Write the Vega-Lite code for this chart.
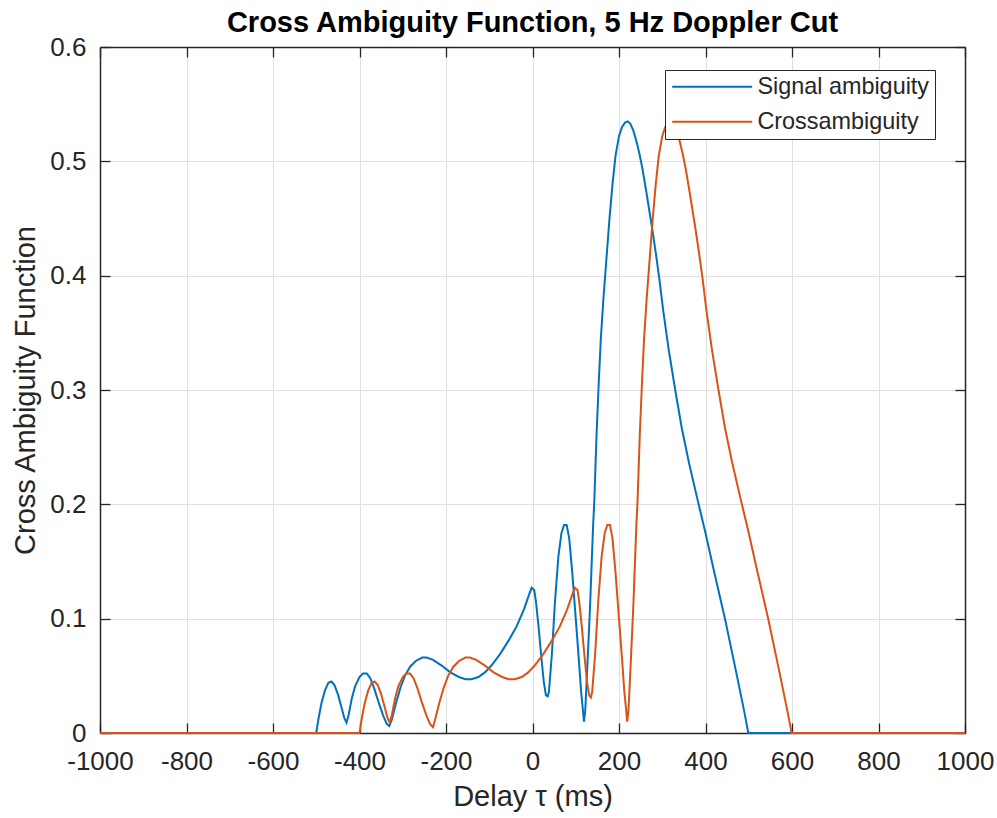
{
  "$schema": "https://vega.github.io/schema/vega-lite/v6.json",
  "autosize": "none",
  "width": 865,
  "height": 686,
  "padding": {"left": 100, "top": 47, "right": 32, "bottom": 85},
  "background": "white",
  "title": {"text": "Cross Ambiguity Function, 5 Hz Doppler Cut", "font": "Liberation Sans", "fontSize": 29, "fontWeight": "bold", "color": "#000000", "anchor": "middle", "offset": -4},
  "config": {"view": {"stroke": null}},
  "data": {"values": [
    {"t": -1000, "v": 0, "s": "Signal ambiguity"},
    {"t": -500, "v": 0, "s": "Signal ambiguity"},
    {"t": -495, "v": 0.012, "s": "Signal ambiguity"},
    {"t": -488, "v": 0.026, "s": "Signal ambiguity"},
    {"t": -480, "v": 0.037, "s": "Signal ambiguity"},
    {"t": -472, "v": 0.044, "s": "Signal ambiguity"},
    {"t": -465, "v": 0.045, "s": "Signal ambiguity"},
    {"t": -458, "v": 0.042, "s": "Signal ambiguity"},
    {"t": -450, "v": 0.034, "s": "Signal ambiguity"},
    {"t": -442, "v": 0.023, "s": "Signal ambiguity"},
    {"t": -435, "v": 0.013, "s": "Signal ambiguity"},
    {"t": -430, "v": 0.009, "s": "Signal ambiguity"},
    {"t": -425, "v": 0.016, "s": "Signal ambiguity"},
    {"t": -418, "v": 0.03, "s": "Signal ambiguity"},
    {"t": -410, "v": 0.041, "s": "Signal ambiguity"},
    {"t": -400, "v": 0.049, "s": "Signal ambiguity"},
    {"t": -392, "v": 0.052, "s": "Signal ambiguity"},
    {"t": -383, "v": 0.052, "s": "Signal ambiguity"},
    {"t": -375, "v": 0.048, "s": "Signal ambiguity"},
    {"t": -366, "v": 0.039, "s": "Signal ambiguity"},
    {"t": -356, "v": 0.027, "s": "Signal ambiguity"},
    {"t": -345, "v": 0.015, "s": "Signal ambiguity"},
    {"t": -337, "v": 0.008, "s": "Signal ambiguity"},
    {"t": -331, "v": 0.006, "s": "Signal ambiguity"},
    {"t": -325, "v": 0.012, "s": "Signal ambiguity"},
    {"t": -315, "v": 0.027, "s": "Signal ambiguity"},
    {"t": -305, "v": 0.04, "s": "Signal ambiguity"},
    {"t": -295, "v": 0.05, "s": "Signal ambiguity"},
    {"t": -283, "v": 0.058, "s": "Signal ambiguity"},
    {"t": -270, "v": 0.063, "s": "Signal ambiguity"},
    {"t": -255, "v": 0.066, "s": "Signal ambiguity"},
    {"t": -245, "v": 0.066, "s": "Signal ambiguity"},
    {"t": -230, "v": 0.064, "s": "Signal ambiguity"},
    {"t": -210, "v": 0.059, "s": "Signal ambiguity"},
    {"t": -190, "v": 0.053, "s": "Signal ambiguity"},
    {"t": -170, "v": 0.049, "s": "Signal ambiguity"},
    {"t": -155, "v": 0.047, "s": "Signal ambiguity"},
    {"t": -141, "v": 0.047, "s": "Signal ambiguity"},
    {"t": -125, "v": 0.049, "s": "Signal ambiguity"},
    {"t": -110, "v": 0.053, "s": "Signal ambiguity"},
    {"t": -95, "v": 0.059, "s": "Signal ambiguity"},
    {"t": -75, "v": 0.069, "s": "Signal ambiguity"},
    {"t": -55, "v": 0.081, "s": "Signal ambiguity"},
    {"t": -37, "v": 0.093, "s": "Signal ambiguity"},
    {"t": -20, "v": 0.108, "s": "Signal ambiguity"},
    {"t": -8, "v": 0.121, "s": "Signal ambiguity"},
    {"t": -2, "v": 0.127, "s": "Signal ambiguity"},
    {"t": 4, "v": 0.125, "s": "Signal ambiguity"},
    {"t": 8, "v": 0.115, "s": "Signal ambiguity"},
    {"t": 14, "v": 0.093, "s": "Signal ambiguity"},
    {"t": 20, "v": 0.068, "s": "Signal ambiguity"},
    {"t": 26, "v": 0.045, "s": "Signal ambiguity"},
    {"t": 31, "v": 0.033, "s": "Signal ambiguity"},
    {"t": 35, "v": 0.032, "s": "Signal ambiguity"},
    {"t": 38, "v": 0.036, "s": "Signal ambiguity"},
    {"t": 45, "v": 0.07, "s": "Signal ambiguity"},
    {"t": 52, "v": 0.115, "s": "Signal ambiguity"},
    {"t": 60, "v": 0.155, "s": "Signal ambiguity"},
    {"t": 67, "v": 0.175, "s": "Signal ambiguity"},
    {"t": 73, "v": 0.182, "s": "Signal ambiguity"},
    {"t": 79, "v": 0.182, "s": "Signal ambiguity"},
    {"t": 85, "v": 0.17, "s": "Signal ambiguity"},
    {"t": 92, "v": 0.14, "s": "Signal ambiguity"},
    {"t": 100, "v": 0.1, "s": "Signal ambiguity"},
    {"t": 107, "v": 0.065, "s": "Signal ambiguity"},
    {"t": 112, "v": 0.038, "s": "Signal ambiguity"},
    {"t": 117, "v": 0.018, "s": "Signal ambiguity"},
    {"t": 119, "v": 0.01, "s": "Signal ambiguity"},
    {"t": 122, "v": 0.02, "s": "Signal ambiguity"},
    {"t": 127, "v": 0.06, "s": "Signal ambiguity"},
    {"t": 133, "v": 0.11, "s": "Signal ambiguity"},
    {"t": 140, "v": 0.18, "s": "Signal ambiguity"},
    {"t": 143, "v": 0.204, "s": "Signal ambiguity"},
    {"t": 148, "v": 0.26, "s": "Signal ambiguity"},
    {"t": 153, "v": 0.305, "s": "Signal ambiguity"},
    {"t": 158, "v": 0.345, "s": "Signal ambiguity"},
    {"t": 164, "v": 0.38, "s": "Signal ambiguity"},
    {"t": 170, "v": 0.41, "s": "Signal ambiguity"},
    {"t": 178, "v": 0.45, "s": "Signal ambiguity"},
    {"t": 185, "v": 0.48, "s": "Signal ambiguity"},
    {"t": 192, "v": 0.505, "s": "Signal ambiguity"},
    {"t": 200, "v": 0.522, "s": "Signal ambiguity"},
    {"t": 207, "v": 0.53, "s": "Signal ambiguity"},
    {"t": 214, "v": 0.534, "s": "Signal ambiguity"},
    {"t": 220, "v": 0.535, "s": "Signal ambiguity"},
    {"t": 226, "v": 0.533, "s": "Signal ambiguity"},
    {"t": 233, "v": 0.527, "s": "Signal ambiguity"},
    {"t": 240, "v": 0.518, "s": "Signal ambiguity"},
    {"t": 247, "v": 0.507, "s": "Signal ambiguity"},
    {"t": 254, "v": 0.494, "s": "Signal ambiguity"},
    {"t": 262, "v": 0.476, "s": "Signal ambiguity"},
    {"t": 276, "v": 0.443, "s": "Signal ambiguity"},
    {"t": 285, "v": 0.42, "s": "Signal ambiguity"},
    {"t": 293, "v": 0.398, "s": "Signal ambiguity"},
    {"t": 302, "v": 0.37, "s": "Signal ambiguity"},
    {"t": 315, "v": 0.335, "s": "Signal ambiguity"},
    {"t": 330, "v": 0.3, "s": "Signal ambiguity"},
    {"t": 345, "v": 0.267, "s": "Signal ambiguity"},
    {"t": 362, "v": 0.236, "s": "Signal ambiguity"},
    {"t": 381, "v": 0.205, "s": "Signal ambiguity"},
    {"t": 400, "v": 0.175, "s": "Signal ambiguity"},
    {"t": 420, "v": 0.141, "s": "Signal ambiguity"},
    {"t": 445, "v": 0.1, "s": "Signal ambiguity"},
    {"t": 470, "v": 0.055, "s": "Signal ambiguity"},
    {"t": 490, "v": 0.018, "s": "Signal ambiguity"},
    {"t": 499, "v": 0, "s": "Signal ambiguity"},
    {"t": 1000, "v": 0, "s": "Signal ambiguity"},

    {"t": -1000, "v": 0, "s": "Crossambiguity"},
    {"t": -400, "v": 0, "s": "Crossambiguity"},
    {"t": -395, "v": 0.012, "s": "Crossambiguity"},
    {"t": -388, "v": 0.026, "s": "Crossambiguity"},
    {"t": -380, "v": 0.037, "s": "Crossambiguity"},
    {"t": -372, "v": 0.044, "s": "Crossambiguity"},
    {"t": -365, "v": 0.045, "s": "Crossambiguity"},
    {"t": -358, "v": 0.042, "s": "Crossambiguity"},
    {"t": -350, "v": 0.034, "s": "Crossambiguity"},
    {"t": -342, "v": 0.023, "s": "Crossambiguity"},
    {"t": -335, "v": 0.013, "s": "Crossambiguity"},
    {"t": -330, "v": 0.009, "s": "Crossambiguity"},
    {"t": -325, "v": 0.016, "s": "Crossambiguity"},
    {"t": -318, "v": 0.03, "s": "Crossambiguity"},
    {"t": -310, "v": 0.041, "s": "Crossambiguity"},
    {"t": -300, "v": 0.049, "s": "Crossambiguity"},
    {"t": -292, "v": 0.052, "s": "Crossambiguity"},
    {"t": -283, "v": 0.052, "s": "Crossambiguity"},
    {"t": -275, "v": 0.048, "s": "Crossambiguity"},
    {"t": -266, "v": 0.039, "s": "Crossambiguity"},
    {"t": -256, "v": 0.027, "s": "Crossambiguity"},
    {"t": -245, "v": 0.015, "s": "Crossambiguity"},
    {"t": -237, "v": 0.008, "s": "Crossambiguity"},
    {"t": -230, "v": 0.005, "s": "Crossambiguity"},
    {"t": -225, "v": 0.012, "s": "Crossambiguity"},
    {"t": -215, "v": 0.027, "s": "Crossambiguity"},
    {"t": -205, "v": 0.04, "s": "Crossambiguity"},
    {"t": -195, "v": 0.05, "s": "Crossambiguity"},
    {"t": -183, "v": 0.058, "s": "Crossambiguity"},
    {"t": -170, "v": 0.063, "s": "Crossambiguity"},
    {"t": -155, "v": 0.066, "s": "Crossambiguity"},
    {"t": -145, "v": 0.066, "s": "Crossambiguity"},
    {"t": -130, "v": 0.064, "s": "Crossambiguity"},
    {"t": -110, "v": 0.059, "s": "Crossambiguity"},
    {"t": -90, "v": 0.053, "s": "Crossambiguity"},
    {"t": -70, "v": 0.049, "s": "Crossambiguity"},
    {"t": -55, "v": 0.047, "s": "Crossambiguity"},
    {"t": -41, "v": 0.047, "s": "Crossambiguity"},
    {"t": -25, "v": 0.049, "s": "Crossambiguity"},
    {"t": -10, "v": 0.053, "s": "Crossambiguity"},
    {"t": 5, "v": 0.059, "s": "Crossambiguity"},
    {"t": 25, "v": 0.069, "s": "Crossambiguity"},
    {"t": 45, "v": 0.081, "s": "Crossambiguity"},
    {"t": 63, "v": 0.093, "s": "Crossambiguity"},
    {"t": 80, "v": 0.108, "s": "Crossambiguity"},
    {"t": 92, "v": 0.121, "s": "Crossambiguity"},
    {"t": 98, "v": 0.127, "s": "Crossambiguity"},
    {"t": 104, "v": 0.125, "s": "Crossambiguity"},
    {"t": 108, "v": 0.115, "s": "Crossambiguity"},
    {"t": 114, "v": 0.093, "s": "Crossambiguity"},
    {"t": 120, "v": 0.068, "s": "Crossambiguity"},
    {"t": 126, "v": 0.045, "s": "Crossambiguity"},
    {"t": 131, "v": 0.033, "s": "Crossambiguity"},
    {"t": 135, "v": 0.031, "s": "Crossambiguity"},
    {"t": 138, "v": 0.036, "s": "Crossambiguity"},
    {"t": 145, "v": 0.07, "s": "Crossambiguity"},
    {"t": 152, "v": 0.115, "s": "Crossambiguity"},
    {"t": 160, "v": 0.155, "s": "Crossambiguity"},
    {"t": 167, "v": 0.175, "s": "Crossambiguity"},
    {"t": 173, "v": 0.182, "s": "Crossambiguity"},
    {"t": 179, "v": 0.182, "s": "Crossambiguity"},
    {"t": 185, "v": 0.17, "s": "Crossambiguity"},
    {"t": 192, "v": 0.14, "s": "Crossambiguity"},
    {"t": 200, "v": 0.1, "s": "Crossambiguity"},
    {"t": 207, "v": 0.065, "s": "Crossambiguity"},
    {"t": 212, "v": 0.038, "s": "Crossambiguity"},
    {"t": 217, "v": 0.018, "s": "Crossambiguity"},
    {"t": 219, "v": 0.01, "s": "Crossambiguity"},
    {"t": 222, "v": 0.02, "s": "Crossambiguity"},
    {"t": 227, "v": 0.06, "s": "Crossambiguity"},
    {"t": 233, "v": 0.11, "s": "Crossambiguity"},
    {"t": 240, "v": 0.18, "s": "Crossambiguity"},
    {"t": 243, "v": 0.204, "s": "Crossambiguity"},
    {"t": 248, "v": 0.26, "s": "Crossambiguity"},
    {"t": 253, "v": 0.305, "s": "Crossambiguity"},
    {"t": 258, "v": 0.345, "s": "Crossambiguity"},
    {"t": 264, "v": 0.38, "s": "Crossambiguity"},
    {"t": 270, "v": 0.41, "s": "Crossambiguity"},
    {"t": 278, "v": 0.45, "s": "Crossambiguity"},
    {"t": 285, "v": 0.48, "s": "Crossambiguity"},
    {"t": 292, "v": 0.505, "s": "Crossambiguity"},
    {"t": 300, "v": 0.522, "s": "Crossambiguity"},
    {"t": 307, "v": 0.53, "s": "Crossambiguity"},
    {"t": 314, "v": 0.534, "s": "Crossambiguity"},
    {"t": 320, "v": 0.535, "s": "Crossambiguity"},
    {"t": 326, "v": 0.533, "s": "Crossambiguity"},
    {"t": 333, "v": 0.527, "s": "Crossambiguity"},
    {"t": 340, "v": 0.518, "s": "Crossambiguity"},
    {"t": 347, "v": 0.507, "s": "Crossambiguity"},
    {"t": 354, "v": 0.494, "s": "Crossambiguity"},
    {"t": 362, "v": 0.476, "s": "Crossambiguity"},
    {"t": 376, "v": 0.443, "s": "Crossambiguity"},
    {"t": 385, "v": 0.42, "s": "Crossambiguity"},
    {"t": 393, "v": 0.398, "s": "Crossambiguity"},
    {"t": 402, "v": 0.37, "s": "Crossambiguity"},
    {"t": 415, "v": 0.335, "s": "Crossambiguity"},
    {"t": 430, "v": 0.3, "s": "Crossambiguity"},
    {"t": 445, "v": 0.267, "s": "Crossambiguity"},
    {"t": 462, "v": 0.236, "s": "Crossambiguity"},
    {"t": 481, "v": 0.205, "s": "Crossambiguity"},
    {"t": 500, "v": 0.175, "s": "Crossambiguity"},
    {"t": 520, "v": 0.141, "s": "Crossambiguity"},
    {"t": 545, "v": 0.1, "s": "Crossambiguity"},
    {"t": 570, "v": 0.055, "s": "Crossambiguity"},
    {"t": 590, "v": 0.018, "s": "Crossambiguity"},
    {"t": 599, "v": 0, "s": "Crossambiguity"},
    {"t": 1000, "v": 0, "s": "Crossambiguity"}
  ]},
  "layer": [
    {
      "mark": {"type": "line", "strokeWidth": 2, "interpolate": "linear"},
      "encoding": {
        "x": {"field": "t", "type": "quantitative", "scale": {"domain": [-1000, 1000], "nice": false},
          "axis": {"orient": "bottom", "values": [-1000, -800, -600, -400, -200, 0, 200, 400, 600, 800, 1000], "labelExpr": "'' + datum.value",
            "title": "Delay τ (ms)", "titleFont": "Liberation Sans", "titleFontSize": 29, "titleFontWeight": "normal", "titleColor": "#262626", "titlePadding": 8,
            "labelFont": "Liberation Sans", "labelFontSize": 26, "labelColor": "#262626", "labelPadding": 25, "labelFlush": false, "labelOverlap": false,
            "grid": true, "gridColor": "#e0e0e0", "gridWidth": 1,
            "domainColor": "#262626", "domainWidth": 1.5, "tickColor": "#262626", "tickSize": -10, "tickWidth": 1.3}},
        "y": {"field": "v", "type": "quantitative", "scale": {"domain": [0, 0.6], "nice": false},
          "axis": {"orient": "left", "values": [0, 0.1, 0.2, 0.3, 0.4, 0.5, 0.6], "labelExpr": "'' + datum.value",
            "title": "Cross Ambiguity Function", "titleFont": "Liberation Sans", "titleFontSize": 29, "titleFontWeight": "normal", "titleColor": "#262626", "titlePadding": 9,
            "labelFont": "Liberation Sans", "labelFontSize": 26, "labelColor": "#262626", "labelPadding": 24, "labelFlush": false, "labelOverlap": false,
            "grid": true, "gridColor": "#e0e0e0", "gridWidth": 1,
            "domainColor": "#262626", "domainWidth": 1.5, "tickColor": "#262626", "tickSize": -10, "tickWidth": 1.3}},
        "color": {"field": "s", "type": "nominal",
          "scale": {"domain": ["Signal ambiguity", "Crossambiguity"], "range": ["#0072BD", "#D95319"]},
          "legend": {"title": null, "orient": "none", "legendX": 565, "legendY": 23,
            "strokeColor": "#262626", "fillColor": "white", "padding": 5,
            "symbolType": "M-5,0H5", "symbolSize": 256, "symbolStrokeWidth": 2, "symbolOffset": 30.5,
            "labelFont": "Liberation Sans", "labelFontSize": 23.4, "labelColor": "#262626", "labelLimit": 300,
            "rowPadding": 10, "labelOffset": 33.5}}
      }
    },
    {
      "mark": {"type": "line", "opacity": 0},
      "encoding": {
        "x": {"field": "t", "type": "quantitative",
          "axis": {"orient": "top", "values": [-1000, -800, -600, -400, -200, 0, 200, 400, 600, 800, 1000], "labels": false, "title": null, "grid": false,
            "domainColor": "#262626", "domainWidth": 1.5, "tickColor": "#262626", "tickSize": -10, "tickWidth": 1.3}},
        "y": {"field": "v", "type": "quantitative",
          "axis": {"orient": "right", "values": [0, 0.1, 0.2, 0.3, 0.4, 0.5, 0.6], "labels": false, "title": null, "grid": false,
            "domainColor": "#262626", "domainWidth": 1.5, "tickColor": "#262626", "tickSize": -10, "tickWidth": 1.3}},
        "detail": {"field": "s", "type": "nominal"}
      }
    }
  ],
  "resolve": {"axis": {"x": "independent", "y": "independent"}}
}
